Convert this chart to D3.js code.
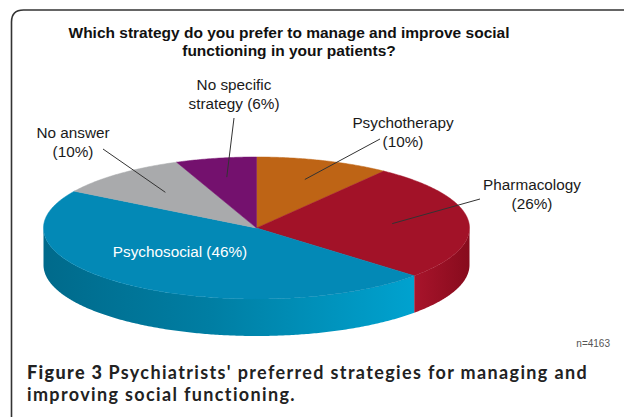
<!DOCTYPE html>
<html>
<head>
<meta charset="utf-8">
<script src="https://cdn.jsdelivr.net/npm/d3@7"></script>
<style>
  html, body { margin: 0; padding: 0; background: #fff; }
  svg { display: block; }
</style>
</head>
<body>
<svg id="chart" width="624" height="417"></svg>
<script>
// ---- data ----
const categories = ["Psychotherapy", "Pharmacology", "Psychosocial", "No answer", "No specific strategy"];
const values = [10, 26, 46, 10, 6];
const labelLines = [["Psychotherapy", "(10%)"], ["Pharmacology", "(26%)"], ["Psychosocial (46%)"], ["No answer", "(10%)"], ["No specific", "strategy (6%)"]];
const titleLines = ["Which strategy do you prefer to manage and improve social", "functioning in your patients?"];
const sampleNote = "n=4163";
const captionBold = "Figure 3";
const captionLines = ["Psychiatrists' preferred strategies for managing and", "improving social functioning."];

// ---- styles / layout ----
const topColors = ["#be6415", "#a21228", "#0389b6", "#a9aaac", "#74116e"];
const sideColorsA = ["#a0520f", "#a8142b", "#006a8b", "#8d8e90", "#5c0d58"];
const sideColorsB = ["#a0520f", "#870b1d", "#00a2cf", "#8d8e90", "#5c0d58"];
const cx = 256.5, cy = 228, rx = 213, ry = 71, depth = 37;
const labelPos = [
  { x: 403, y: 128, lead: [380, 139], r: 0.72, fill: "#1a1a1a" },
  { x: 532, y: 190, lead: [480, 199], r: 0.64, fill: "#1a1a1a" },
  { x: 180, y: 257, lead: null, fill: "#ffffff" },
  { x: 73, y: 138, lead: [103, 149], r: 0.66, fill: "#1a1a1a" },
  { x: 234, y: 90, lead: [234, 118], r: 0.73, fill: "#1a1a1a" }
];

const svg = d3.select("#chart");

// frame
svg.append("path")
  .attr("d", "M11.5,417 V22 Q11.5,10 23.5,10 H624")
  .attr("fill", "none").attr("stroke", "#333").attr("stroke-width", 1.6);

// title
const title = svg.append("text")
  .attr("font-family", "Liberation Sans, Arial, sans-serif")
  .attr("font-weight", "bold").attr("font-size", 15.5).attr("fill", "#111")
  .attr("text-anchor", "middle");
titleLines.forEach((t, i) => title.append("tspan").attr("x", 289).attr("y", 38 + i * 18).text(t));

// projection scales (unit circle -> ellipse)
const sx = d3.scaleLinear().domain([-1, 1]).range([cx - rx, cx + rx]);
const sy = d3.scaleLinear().domain([-1, 1]).range([cy - ry, cy + ry]);
const px = (a, r = 1) => sx(r * Math.sin(a));
const py = (a, r = 1) => sy(-r * Math.cos(a));

const pie = d3.pie().sort(null).value(d => d)(values);
const line = d3.line();

function arcPoints(a0, a1, dy = 0) {
  const n = Math.max(2, Math.ceil((a1 - a0) / 0.01));
  return d3.range(n + 1).map(i => {
    const a = a0 + (a1 - a0) * i / n;
    return [px(a), py(a) + dy];
  });
}

const defs = svg.append("defs");

// sides (front half only)
pie.forEach((s, i) => {
  const a0 = Math.max(s.startAngle, Math.PI / 2);
  const a1 = Math.min(s.endAngle, 3 * Math.PI / 2);
  if (a1 <= a0) return;
  const xs = [px(a0), px(a1)];
  const gid = "side" + i;
  const g = defs.append("linearGradient").attr("id", gid)
    .attr("gradientUnits", "userSpaceOnUse")
    .attr("x1", d3.min(xs)).attr("x2", d3.max(xs)).attr("y1", 0).attr("y2", 0);
  g.append("stop").attr("offset", 0).attr("stop-color", sideColorsA[i]);
  if (i === 2) g.append("stop").attr("offset", 0.45).attr("stop-color", "#007ea3");
  g.append("stop").attr("offset", 1).attr("stop-color", sideColorsB[i]);
  const pts = arcPoints(a0, a1).concat(arcPoints(a0, a1, depth).reverse());
  svg.append("path").attr("d", line(pts) + "Z").attr("fill", `url(#${gid})`);
});

// top slices
pie.forEach((s, i) => {
  const pts = [[cx, cy]].concat(arcPoints(s.startAngle, s.endAngle));
  svg.append("path").attr("d", line(pts) + "Z")
    .attr("fill", topColors[i]).attr("stroke", topColors[i]).attr("stroke-width", 0.5);
});

// leader lines
pie.forEach((s, i) => {
  const L = labelPos[i];
  if (!L.lead) return;
  const mid = (s.startAngle + s.endAngle) / 2;
  svg.append("line")
    .attr("x1", L.lead[0]).attr("y1", L.lead[1])
    .attr("x2", px(mid, L.r)).attr("y2", py(mid, L.r))
    .attr("stroke", "#333").attr("stroke-width", 1);
});

// labels
labelLines.forEach((lines, i) => {
  const L = labelPos[i];
  const t = svg.append("text")
    .attr("font-family", "Liberation Sans, Arial, sans-serif")
    .attr("font-size", 15.3).attr("fill", L.fill).attr("text-anchor", "middle");
  lines.forEach((ln, j) => t.append("tspan").attr("x", L.x).attr("y", L.y + j * 18.5).text(ln));
});

// n note
svg.append("text").attr("x", 610).attr("y", 347)
  .attr("font-family", "Liberation Sans, Arial, sans-serif")
  .attr("font-size", 10).attr("fill", "#555").attr("text-anchor", "end")
  .text(sampleNote);

// caption (fitted to the reference line width)
const capFont = "Lato, Open Sans, sans-serif";
const capSize = 18, capX = 27, capRight = 588, capY1 = 379, capY2 = 401;
const bold = svg.append("text").attr("x", capX).attr("y", capY1)
  .attr("font-family", capFont).attr("font-size", capSize).attr("font-weight", 900)
  .attr("fill", "#222").text(captionBold);
const rest1 = svg.append("text").attr("y", capY1)
  .attr("font-family", capFont).attr("font-size", capSize).attr("font-weight", 700)
  .attr("fill", "#222").text(captionLines[0]);
const rest2 = svg.append("text").attr("x", capX).attr("y", capY2)
  .attr("font-family", capFont).attr("font-size", capSize).attr("font-weight", 700)
  .attr("fill", "#222").text(captionLines[1]);
const gap = 5;
const w0 = bold.node().getComputedTextLength() + gap + rest1.node().getComputedTextLength();
const nChars = captionBold.length + captionLines[0].length;
const ls = Math.max(0, (capRight - capX - w0) / nChars);
[bold, rest1, rest2].forEach(t => t.attr("letter-spacing", ls));
const bw = bold.node().getComputedTextLength();
rest1.attr("x", capX + bw + gap);
</script>
</body>
</html>
